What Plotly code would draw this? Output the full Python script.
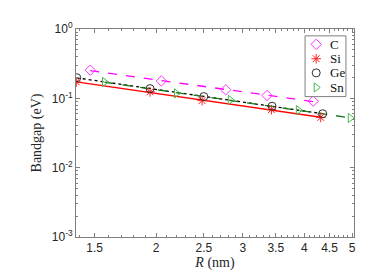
import numpy as np
import plotly.graph_objects as go

# Data
R_C = [1.47, 2.05, 2.77, 3.36, 4.17]
E_C = [0.255, 0.178, 0.133, 0.110, 0.091]
R_Si = [1.377, 1.944, 2.48, 3.43, 4.32]
E_Si = [0.172, 0.124, 0.0927, 0.0686, 0.053]
R_Ge = [1.38, 1.944, 2.50, 3.44, 4.36]
E_Ge = [0.198, 0.138, 0.106, 0.077, 0.060]
R_Sn = [1.571, 2.20, 2.83, 3.89, 4.96]
E_Sn = [0.172, 0.118, 0.0949, 0.0676, 0.0521]

x_ticks = [1.5, 2, 2.5, 3, 3.5, 4, 4.5, 5]
x_tick_labels = ["1.5", "2", "2.5", "3", "3.5", "4", "4.5", "5"]
y_ticks = [1e-3, 1e-2, 1e-1, 1e0]
y_tick_labels = ["10<sup>-3</sup>", "10<sup>-2</sup>", "10<sup>-1</sup>", "10<sup>0</sup>"]
legend_names = ["C", "Si", "Ge", "Sn"]

series = [
    (R_C, E_C, "diamond-open", "#ff33ff", "#ff00ff", "dash"),
    (R_Si, E_Si, "asterisk-open", "#ff2020", "#ff0000", "solid"),
    (R_Ge, E_Ge, "circle-open", "#303030", "#000000", "dot"),
    (R_Sn, E_Sn, "triangle-right-open", "#4cb84c", "#1a7a1a", "dash"),
]

fig = go.Figure()
# power-law fit lines
for r, e, sym, mcol, lcol, dash in series:
    p = np.polyfit(np.log10(r), np.log10(e), 1)
    xs = np.array([min(r), max(r)])
    ys = 10 ** np.polyval(p, np.log10(xs))
    fig.add_trace(go.Scatter(x=xs, y=ys, mode="lines", showlegend=False,
                             line=dict(color=lcol, width=1.3, dash=dash), hoverinfo="skip"))
for (r, e, sym, mcol, lcol, dash), name in zip(series, legend_names):
    fig.add_trace(go.Scatter(x=r, y=e, mode="markers", name=name, showlegend=False,
                             marker=dict(symbol=sym, size=8, color=mcol,
                                         line=dict(color=mcol, width=1))))

# Compact legend box drawn on an overlay [0,1] axis
LX0, LX1, LY0, LY1 = 0.824, 0.971, 0.675, 0.967
SYM_X, TXT_X = 0.864, 0.905
ROW_Y = [0.926, 0.857, 0.789, 0.719]
fig.add_trace(go.Scatter(x=[LX0, LX1, LX1, LX0, LX0], y=[LY0, LY0, LY1, LY1, LY0],
                         xaxis="x2", yaxis="y2", mode="lines", fill="toself",
                         fillcolor="white", line=dict(color="#7f7f7f", width=1),
                         showlegend=False, hoverinfo="skip"))
for (r, e, sym, mcol, lcol, dash), name, yy in zip(series, legend_names, ROW_Y):
    fig.add_trace(go.Scatter(x=[SYM_X], y=[yy], xaxis="x2", yaxis="y2", mode="markers",
                             marker=dict(symbol=sym, size=8, color=mcol, line=dict(color=mcol, width=1)),
                             showlegend=False, hoverinfo="skip"))
    fig.add_annotation(x=TXT_X, y=yy, xref="paper", yref="paper", text=name, showarrow=False,
                       xanchor="left", yanchor="middle",
                       font=dict(family="Liberation Serif", size=13, color="#111"))

minor_x = [v / 10 for v in range(14, 51) if v % 5 != 0]
minor_y = [m * 10 ** k for k in range(-3, 0) for m in range(2, 10)]

axis_common = dict(showline=True, linecolor="#7f7f7f", linewidth=1, mirror="allticks",
                   ticks="inside", ticklen=4, tickcolor="#7f7f7f", showgrid=False,
                   zeroline=False, tickfont=dict(family="Liberation Sans", size=12, color="#262626"))

fig.update_layout(
    width=374, height=280,
    margin=dict(l=68, r=28, t=17, b=51),
    paper_bgcolor="white", plot_bgcolor="white",
    xaxis=dict(type="log", range=[np.log10(1.375), np.log10(5.047)],
               tickvals=x_ticks, ticktext=x_tick_labels,
               minor=dict(tickvals=minor_x, ticks="inside", ticklen=2, tickcolor="#7f7f7f"),
               title=dict(text="<i>R</i> (nm)", font=dict(family="Liberation Serif", size=14, color="#262626"), standoff=0),
               **axis_common),
    yaxis=dict(type="log", range=[-3, 0],
               tickvals=y_ticks, ticktext=y_tick_labels,
               minor=dict(tickvals=minor_y, ticks="inside", ticklen=2, tickcolor="#7f7f7f"),
               title=dict(text="Bandgap (eV)", font=dict(family="Liberation Serif", size=14, color="#262626"), standoff=6),
               **axis_common),
    xaxis2=dict(overlaying="x", range=[0, 1], visible=False, fixedrange=True),
    yaxis2=dict(overlaying="y", range=[0, 1], visible=False, fixedrange=True),
    showlegend=False,
)

fig.write_html("out.html")
